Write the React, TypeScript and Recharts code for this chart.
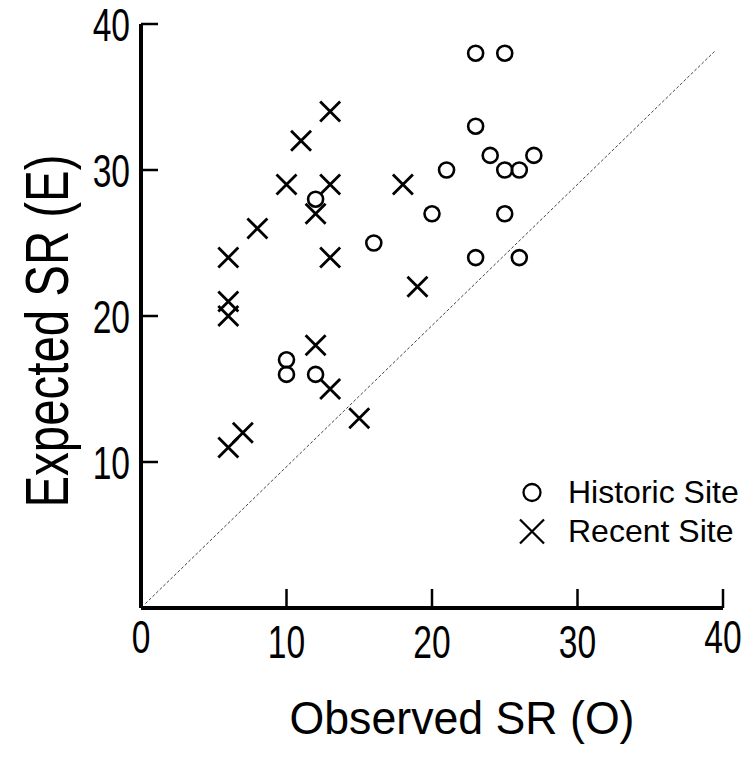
import { ScatterChart, Scatter, XAxis, YAxis, ReferenceLine, Legend, Label } from "recharts";

const historicObserved = [23, 25, 23, 24, 27, 21, 25, 26, 12, 20, 25, 16, 23, 26, 10, 10, 12];
const historicExpected = [38, 38, 33, 31, 31, 30, 30, 30, 28, 27, 27, 25, 24, 24, 17, 16, 16];
const recentObserved = [13, 11, 10, 13, 18, 12, 8, 6, 13, 19, 6, 6, 12, 13, 15, 7, 6];
const recentExpected = [34, 32, 29, 29, 29, 27, 26, 24, 24, 22, 21, 20, 18, 15, 13, 12, 11];

const xTicks = [0, 10, 20, 30, 40];
const yTicks = [10, 20, 30, 40];
const guideLine = [{ x: 0.3, y: 0.3 }, { x: 39.5, y: 38.2 }];

const seriesNames = ["Historic Site", "Recent Site"];

const historic = historicObserved.map((o, i) => ({ o, e: historicExpected[i] }));
const recent = recentObserved.map((o, i) => ({ o, e: recentExpected[i] }));

const FONT = "'Liberation Sans', Arial, sans-serif";

const Ring = (props: any) => (
  <circle cx={props.cx} cy={props.cy} r={7.5} fill="none" stroke="#000" strokeWidth={2.6} />
);

const Cross = (props: any) => {
  const { cx, cy } = props;
  const h = 10;
  return (
    <path
      d={`M${cx - h},${cy - h}L${cx + h},${cy + h}M${cx - h},${cy + h}L${cx + h},${cy - h}`}
      stroke="#000"
      strokeWidth={2.8}
      fill="none"
    />
  );
};

const XTick = (props: any) => {
  const { x, y, payload } = props;
  // end labels sit a little higher in the original
  const lift = payload.value === 0 || payload.value === 40 ? -5 : 0;
  return (
    <g>
      <line x1={x} x2={x} y1={y} y2={y - 19} stroke="#000" strokeWidth={2.5} />
      <text
        transform={`translate(${x},${y + 50 + lift}) scale(0.73,1)`}
        textAnchor="middle"
        fontSize={46}
        fontFamily={FONT}
        fill="#000"
      >
        {payload.value}
      </text>
    </g>
  );
};

const YTick = (props: any) => {
  const { x, y, payload } = props;
  return (
    <g>
      <line x1={x} x2={x + 17} y1={y} y2={y} stroke="#000" strokeWidth={2.5} />
      <text
        transform={`translate(${x - 11},${y + 16.5}) scale(0.73,1)`}
        textAnchor="end"
        fontSize={46}
        fontFamily={FONT}
        fill="#000"
      >
        {payload.value}
      </text>
    </g>
  );
};

const renderLegend = () => (
  <div style={{ fontFamily: FONT, fontSize: 32, color: "#000", lineHeight: "39px" }}>
    {seriesNames.map((name, i) => (
      <div key={name} style={{ display: "flex", alignItems: "center", height: 39 }}>
        <svg width={50} height={39} style={{ display: "block" }}>
          {i === 0 ? (
            <circle cx={14} cy={19.5} r={8.5} fill="none" stroke="#000" strokeWidth={2.3} />
          ) : (
            <path d="M2,7.5L26,31.5M2,31.5L26,7.5" stroke="#000" strokeWidth={2.3} fill="none" />
          )}
        </svg>
        <span style={{ whiteSpace: "nowrap" }}>{name}</span>
      </div>
    ))}
  </div>
);

export default function App() {
  return (
    <div style={{ margin: -8, width: 756, height: 757, background: "#fff" }}>
      <ScatterChart width={756} height={757} margin={{ top: 24, right: 33, left: 0, bottom: 0 }}>
        <XAxis
          type="number"
          dataKey="o"
          domain={[0, 40]}
          ticks={xTicks}
          height={149}
          tickSize={0}
          tickMargin={0}
          tickLine={false}
          tick={XTick}
          axisLine={{ stroke: "#000", strokeWidth: 4 }}
          interval={0}
        >
          <Label
            content={() => (
              <text
                x={462}
                y={734}
                textAnchor="middle"
                fontSize={46}
                fontFamily={FONT}
                fill="#000"
                textLength={345}
                lengthAdjust="spacingAndGlyphs"
              >
                Observed SR (O)
              </text>
            )}
          />
        </XAxis>
        <YAxis
          type="number"
          dataKey="e"
          domain={[0, 40]}
          ticks={yTicks}
          width={141}
          tickSize={0}
          tickMargin={0}
          tickLine={false}
          tick={YTick}
          axisLine={{ stroke: "#000", strokeWidth: 4 }}
          interval={0}
        >
          <Label
            content={() => (
              <text
                transform="translate(68,331) rotate(-90)"
                textAnchor="middle"
                fontSize={62}
                fontFamily={FONT}
                fill="#000"
                textLength={353}
                lengthAdjust="spacingAndGlyphs"
              >
                Expected SR (E)
              </text>
            )}
          />
        </YAxis>
        <ReferenceLine
          segment={guideLine}
          stroke="#444"
          strokeWidth={1}
          strokeDasharray="3 2"
          ifOverflow="visible"
        />
        <Scatter name={seriesNames[0]} data={historic} shape={Ring} isAnimationActive={false} />
        <Scatter name={seriesNames[1]} data={recent} shape={Cross} isAnimationActive={false} />
        <Legend
          layout="vertical"
          align="center"
          verticalAlign="middle"
          content={renderLegend}
          wrapperStyle={{ position: "absolute", left: 518, top: 473, width: 240 }}
        />
      </ScatterChart>
    </div>
  );
}
